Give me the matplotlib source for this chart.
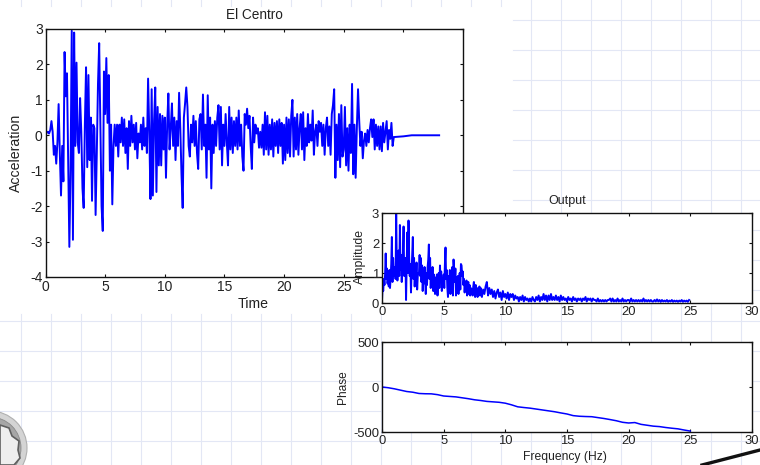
import numpy as np
import matplotlib
matplotlib.use("Agg")
import matplotlib.pyplot as plt
from matplotlib.patches import Circle, Polygon

plt.rcParams['font.family'] = ['Liberation Sans', 'DejaVu Sans']
plt.rcParams['axes.unicode_minus'] = False

# Acceleration, one row per second of record, 0.1 s apart
accel = [
    .05,.07,.1,.05,.15,.4,.1,-.55,-.3,-.8,
    -.2,.88,-.5,-1.7,-.3,-1.3,2.35,1.1,1.75,-.6,
    -3.15,-1,2.95,-2.95,2.9,-.3,2.05,-.2,-.5,1.05,
    .1,-1.5,-2.05,.3,1.92,-.9,1.7,-.7,.5,-1.85,
    .3,.2,-2.25,-.5,1.45,2.6,.4,-2,-2.7,1.8,
    .6,2.18,.35,1.7,-1,.3,-1.95,-.3,.3,-.3,
    .3,-.6,.3,-.2,.5,-.3,.45,-.5,.2,-.95,
    .4,-.3,.55,-.2,.3,-.4,.35,-.65,.05,-.2,
    .3,-.4,.5,-.3,.2,-.5,1.6,.1,-1.8,1.3,
    -1.7,.4,1.35,-1.6,.8,-.85,.6,-.85,.55,-.4,
    .5,-1.2,.3,1.18,-.4,.2,.9,-.3,.5,-.7,
    .4,-.3,1.2,.2,-1.1,-2.05,.5,.9,1.35,.8,
    -.3,-.6,.3,-.2,.55,-.3,.4,-.5,-.95,.45,
    .6,-.4,1.15,-.3,.3,-1.2,1.13,-.4,.5,-1.5,
    .3,-.5,.4,-.3,.5,.85,-.4,.8,-.85,.3,
    -.3,.6,-.2,-.85,.8,-.4,.5,-.5,.4,-.3,
    .5,-.4,.7,-.3,.3,-.6,-1.0,.6,.3,.75,
    .2,.55,-.3,-.95,.5,-.2,.3,.05,.2,-.35,
    .1,-.35,.3,-.55,.65,-.4,.55,-.55,.3,-.4,
    .45,-.6,.35,-.3,.4,-.5,.45,-.3,.35,-.8,
    .3,-.7,.5,-.5,.45,-.6,.55,1.0,-.6,.5,
    -.4,.6,-.55,.2,.6,-.4,.65,-.7,.2,-.3,
    .6,-.2,.3,-.15,.7,-.55,.1,.3,-.3,.4,
    .1,.35,-.3,.3,-.55,.2,.5,-.3,.25,-.55,
    .6,.85,1.3,-1.2,.3,-.7,.6,-.9,.85,-.6,
    -.4,.8,-.85,.2,-1.0,.3,-.5,1.45,-1.1,.3,
    -1.2,.2,1.3,.4,-.3,.1,-.65,-.15,.05,-.3,
    .15,-.2,.2,.45,-.05,.45,-.4,.3,-.3,.25,
    -.4,.25,-.45,.35,-.2,.1,.4,-.4,.15,-.1,
    .35,-.3,
]
tail_time = [29.2, 30.0, 30.7, 33.0]
tail_accel = [-.05, -.03, 0.0, 0.0]
time = list(np.arange(len(accel)) * 0.1) + tail_time
accel_all = accel + tail_accel

# Amplitude spectrum: 0.05 Hz apart up to 8 Hz, then 0.1 Hz apart
amp_low = [
    .1,.55,.4,.8,.6,.95,1.65,.8,1.15,.65,.9,.55,1.1,.5,.85,1.3,2.2,.7,1.5,.9,
    1.0,1.2,.8,3.0,1.3,.75,1.35,1.75,.9,2.6,1.1,1.6,.7,1.3,1.7,2.55,.9,1.2,1.5,.1,
    1.3,2.35,1.0,2.75,1.55,.9,1.3,.35,1.05,1.6,2.2,.8,1.5,.55,1.05,.8,1.35,.45,.9,1.0,
    1.0,1.6,.9,1.5,.7,1.25,.4,.95,.65,1.2,.75,.3,1.0,.6,1.2,1.45,1.95,.8,1.5,.5,
    1.1,.75,1.2,.4,.95,.6,.3,.85,.55,.95,.25,.8,1.0,.5,1.25,.7,1.05,.4,.8,.55,
    .95,.5,1.3,1.85,.8,1.1,.5,.2,.9,.55,1.1,.3,1.0,.7,1.2,.25,1.45,1.05,.7,1.15,
    .25,.85,.55,.9,.3,.75,1.0,.45,1.3,1.25,.9,1.05,.6,.8,.35,.65,.5,.75,.25,.55,
    .7,.3,.6,.25,.5,.35,.45,.25,.55,.7,.4,.2,.6,.3,.5,.2,.45,.3,.55,.25,
]
amp_high = [
    .5,.2,.45,.3,.55,.7,.25,.5,.3,.45,
    .2,.4,.15,.35,.45,.2,.35,.1,.4,.2,
    .3,.15,.35,.1,.3,.2,.3,.1,.25,.15,
    .2,.05,.2,.1,.25,.05,.2,.1,.15,.05,
    .15,.05,.2,.1,.05,.2,.1,.25,.05,.2,
    .1,.3,.1,.25,.05,.25,.1,.3,.1,.2,
    .1,.25,.1,.2,.05,.25,.1,.2,.1,.15,
    .05,.2,.1,.15,.05,.2,.1,.15,.05,.15,
    .1,.15,.05,.15,.1,.2,.05,.15,.1,.15,
    .05,.15,.1,.1,.05,.15,.05,.1,.05,.1,
    .05,.1,.05,.1,.1,.15,.05,.15,.05,.1,
    .05,.15,.05,.1,.05,.15,.05,.1,.05,.1,
    .1,.05,.15,.05,.1,.05,.1,.05,.1,.05,
    .1,.05,.15,.05,.1,.05,.1,.05,.1,.05,
    .05,.1,.05,.12,.05,.1,.04,.1,.05,.08,
    .05,.1,.04,.08,.05,.1,.04,.08,.05,.08,
    .04,.08,.05,.1,.04,.08,.05,.08,.04,.1,
]
amp_freq = list(np.arange(len(amp_low)) * 0.05) + list(8 + np.arange(len(amp_high)) * 0.1)
amp_all = amp_low + amp_high

# Phase, 0.5 Hz apart
phase = [
    0,-8,-20,-35,-50,-58,-72,-75,-76,-85,
    -100,-105,-110,-120,-130,-142,-150,-160,-165,-170,
    -180,-198,-220,-228,-235,-245,-255,-265,-275,-288,
    -300,-318,-325,-328,-330,-340,-350,-362,-375,-392,
    -400,-395,-415,-425,-435,-440,-450,-458,-465,-478,-490,
]
phase_freq = list(np.arange(len(phase)) * 0.5)

BLUE = '#0000ff'
GRID = '#e3e7f5'
TEXT = '#222222'
W, H = 760, 465

fig = plt.figure(figsize=(7.6, 4.65), dpi=100, facecolor='white')

def box(l, t, r, b):
    return [l / W, 1 - b / H, (r - l) / W, (b - t) / H]

# Paper-grid background, in pixel coordinates
bg = fig.add_axes([0, 0, 1, 1], zorder=0)
bg.set_xlim(0, W)
bg.set_ylim(H, 0)
bg.axis('off')
GLW = 0.8
for x in range(21, 502, 30):
    bg.plot([x, x], [0, 6], color=GRID, lw=GLW)
for y in (20, 50, 80, 110, 140, 170, 200, 230, 260, 290):
    bg.plot([513, 760], [y, y], color=GRID, lw=GLW)
for x in range(531, 760, 30):
    bg.plot([x, x], [0, 314], color=GRID, lw=GLW)
for y in (321, 351, 381, 411, 441):
    bg.plot([0, 760], [y, y], color=GRID, lw=GLW)
for x in range(21, 760, 30):
    bg.plot([x, x], [314, 465], color=GRID, lw=GLW)

# Seal fragment in the lower-left corner and the stroke in the lower-right corner
bg.add_patch(Circle((-10, 448), 37, fc='#d4d4d4', ec='#b0b0b0', lw=0.8, zorder=5))
bg.add_patch(Circle((-10, 448), 31, fc='#a6a6a6', ec='#8a8a8a', lw=0.6, zorder=5))
bg.add_patch(Polygon([(0, 425), (9, 428), (12, 436), (19, 441), (18, 450), (20, 458), (14, 465), (0, 465)],
                     fc='#eeeeee', ec='#5f5f5f', lw=1.2, zorder=6))
bg.plot([702, 760], [465, 450], color='#111111', lw=2.4)

def style(ax, size):
    ax.tick_params(direction='in', length=2.5, width=0.8, top=True, right=True,
                   labelsize=size, pad=2, color='#111111', labelcolor=TEXT)
    for s in ax.spines.values():
        s.set_linewidth(1.0)
        s.set_color('#111111')

# Main record
ax1 = fig.add_axes(box(45.5, 29, 463, 277), zorder=1)
ax1.plot(time, accel_all, color=BLUE, lw=1.4)
ax1.set_xlim(0, 35)
ax1.set_ylim(-4, 3)
ax1.set_xticks(range(0, 36, 5))
ax1.set_yticks(range(-4, 4))
style(ax1, 10)
ax1.set_title('El Centro', fontsize=9.8, pad=7, color=TEXT)
ax1.set_xlabel('Time', fontsize=10.2, color=TEXT)
ax1.xaxis.set_label_coords((253 - 45.5) / 417.5, -(297 - 277) / 248, transform=ax1.transAxes)
ax1.set_ylabel('Acceleration', fontsize=10.2, color=TEXT)
ax1.yaxis.set_label_coords(-(45.5 - 23) / 417.5, (277 - 153) / 248, transform=ax1.transAxes)

# Amplitude
ax2 = fig.add_axes(box(382, 213, 752, 303), zorder=2)
ax2.plot(amp_freq, amp_all, color=BLUE, lw=1.4)
ax2.set_xlim(0, 30)
ax2.set_ylim(0, 3)
ax2.set_xticks(range(0, 31, 5))
ax2.set_yticks(range(0, 4))
style(ax2, 9.4)
ax2.set_title('Output', fontsize=9, pad=6.5, color=TEXT)
ax2.set_ylabel('Amplitude', fontsize=8.8, color=TEXT)
ax2.yaxis.set_label_coords(-(382 - 366) / 370, (303 - 257) / 90, transform=ax2.transAxes)

# Phase
ax3 = fig.add_axes(box(382, 342, 752, 432), zorder=2)
ax3.plot(phase_freq, phase, color=BLUE, lw=1.1)
ax3.set_xlim(0, 30)
ax3.set_ylim(-500, 500)
ax3.set_xticks(range(0, 31, 5))
ax3.set_yticks([-500, 0, 500])
style(ax3, 9.4)
ax3.set_xlabel('Frequency (Hz)', fontsize=8.7, color=TEXT)
ax3.xaxis.set_label_coords((565 - 382) / 370, -(451 - 432) / 90, transform=ax3.transAxes)
ax3.set_ylabel('Phase', fontsize=8.6, color=TEXT)
ax3.yaxis.set_label_coords(-(382 - 349) / 370, (432 - 387) / 90, transform=ax3.transAxes)

fig.savefig('out.png', dpi=100)
